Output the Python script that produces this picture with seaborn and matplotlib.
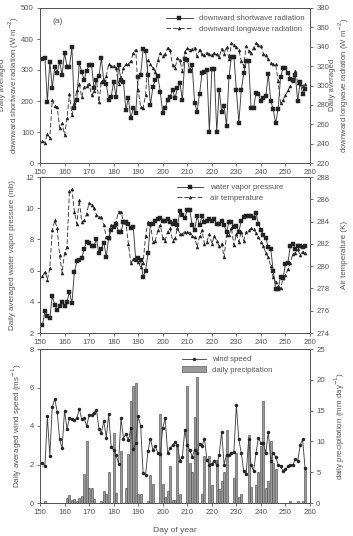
import numpy as np
import pandas as pd
import matplotlib
matplotlib.use("Agg")
import matplotlib.pyplot as plt
from matplotlib.lines import Line2D
from matplotlib.patches import Patch
import seaborn as sns

days = list(range(151, 259))

shortwave = [337, 339, 198, 327, 242, 311, 291, 327, 284, 356,
             311, 311, 373, 177, 203, 322, 294, 268, 298, 316,
             316, 241, 268, 280, 338, 262, 255, 203, 214, 262,
             214, 316, 268, 262, 171, 209, 144, 177, 162, 278,
             284, 367, 360, 284, 187, 246, 268, 280, 230, 162,
             177, 203, 214, 236, 209, 242, 258, 203, 334, 333,
             298, 315, 193, 166, 222, 290, 295, 300, 100, 303,
             303, 100, 235, 165, 185, 120, 278, 343, 343, 235,
             130, 235, 290, 328, 328, 176, 176, 226, 222, 200,
             210, 215, 288, 201, 174, 128, 174, 276, 306, 306,
             290, 272, 268, 283, 200, 262, 222, 240]

longwave = [243, 241, 250, 246, 285, 279, 278, 256, 261, 249,
            266, 291, 270, 282, 295, 302, 288, 298, 300, 302,
            290, 294, 306, 283, 304, 305, 310, 322, 320, 320,
            318, 302, 306, 318, 322, 322, 325, 334, 337, 295,
            278, 277, 290, 326, 322, 318, 314, 326, 334, 330,
            333, 339, 337, 321, 318, 328, 326, 315, 335, 339,
            337, 338, 339, 330, 337, 332, 331, 334, 333, 331,
            334, 332, 329, 338, 333, 340, 327, 344, 342, 340,
            337, 325, 320, 341, 336, 334, 339, 344, 342, 341,
            333, 331, 327, 323, 322, 322, 305, 282, 285, 290,
            295, 300, 305, 315, 303, 302, 300, 302]

vapor = [2.5, 3.4, 3.1, 2.95, 4.4, 3.8, 3.5, 3.7, 4.0, 3.7,
         4.0, 4.65, 3.9, 5.9, 6.6, 6.7, 6.8, 7.4, 7.85, 7.8,
         7.6, 7.6, 8.0, 7.1, 7.4, 7.8, 6.9, 8.1, 8.6, 8.8,
         9.0, 8.5, 8.5, 9.1, 9.1, 9.0, 8.7, 8.8, 6.7, 6.8,
         6.7, 5.6, 6.0, 7.1, 9.0, 9.0, 9.2, 9.3, 9.35, 9.2,
         9.2, 9.3, 9.1, 9.0, 9.2, 8.9, 9.8, 9.55, 9.35, 9.9,
         9.9, 8.9, 8.6, 9.5, 8.9, 9.5, 9.1, 9.2, 9.3, 9.2,
         9.3, 9.0, 9.0, 9.2, 8.9, 8.5, 9.1, 9.1, 8.8, 8.85,
         8.5, 9.2, 9.45, 9.5, 9.5, 9.5, 9.4, 9.7, 9.0, 8.6,
         8.3, 8.1, 7.5, 7.4, 6.0, 4.85, 4.8, 5.6, 5.5, 6.4,
         6.5, 7.6, 7.7, 7.4, 7.55, 7.6, 7.5, 7.6]

air_temp = [279.1, 279.5, 278.8, 279.8, 283.2, 284.1, 283.4, 281.0, 279.4, 281.2,
            281.7, 286.7, 286.9, 284.9, 283.8, 285.9, 284.0, 284.1, 284.7, 285.7,
            285.5, 285.2, 284.6, 284.4, 284.4, 283.7, 282.6, 282.5, 283.7, 283.7,
            284.0, 284.9, 284.9, 284.0, 283.9, 282.0, 280.3, 280.6, 280.6, 280.4,
            279.9, 280.3, 282.7, 284.0, 283.8, 282.2, 282.3, 283.2, 283.7, 282.5,
            282.3, 283.1, 283.4, 282.3, 282.5, 283.4, 282.9, 282.9, 283.1, 283.1,
            283.0, 282.7, 282.6, 281.7, 282.7, 283.2, 282.0, 282.2, 282.9, 282.0,
            282.7, 282.3, 281.8, 282.0, 280.8, 282.8, 282.8, 283.4, 281.9, 282.9,
            282.2, 283.1, 282.3, 283.1, 283.2, 283.4, 283.3, 283.0, 282.6, 282.2,
            281.8, 281.2, 280.8, 280.0, 279.0, 278.6, 278.2, 278.0, 278.9, 279.2,
            279.7, 280.3, 281.1, 281.2, 281.5, 281.0, 281.3, 281.2]

wind = [2.1, 1.9, 4.5, 2.45, 5.0, 5.4, 4.75, 3.3, 2.85, 4.8,
        3.85, 4.4, 4.35, 4.3, 4.4, 4.9, 4.35, 4.4, 4.0, 4.55,
        4.55, 4.7, 4.85, 3.85, 3.65, 4.25, 3.4, 4.6, 2.9, 2.75,
        2.5, 2.05, 4.4, 3.35, 3.6, 3.25, 3.9, 2.8, 3.1, 4.5,
        4.0, 1.55, 1.45, 2.7, 3.35, 2.75, 2.95, 2.6, 2.55, 3.9,
        4.4, 2.6, 2.85, 3.0, 3.15, 3.0, 2.2, 2.4, 3.8, 3.0,
        2.75, 2.4, 2.75, 2.6, 3.05, 2.95, 3.35, 2.25, 2.0, 2.05,
        2.2, 1.95, 2.5, 3.7, 2.0, 2.5, 2.5, 2.6, 2.65, 5.1,
        3.3, 2.6, 1.65, 1.5, 3.3, 2.0, 1.65, 2.6, 3.4, 3.1,
        3.1, 2.6, 3.7, 2.2, 2.6, 2.4, 2.0, 1.9, 1.65, 1.75,
        1.9, 2.0, 1.95, 2.3, 2.2, 3.0, 3.3, 1.8]

rain_days = [152, 161, 162, 163, 164, 165, 166, 167, 168, 169, 170, 171, 172,
             175, 176, 177, 178, 180, 181, 183, 185, 186, 187, 188, 189, 190, 191,
             194, 195, 196, 199, 200, 201, 202, 203, 204, 205, 206, 207,
             210, 211, 212, 213, 214, 216, 217, 219, 220, 222, 223, 224, 225, 226,
             229, 230, 231, 232, 235, 236, 238, 239, 240, 241, 242, 243, 244, 245,
             246, 252, 255, 257, 258]
rain_mm = [0.3, 0.8, 1.3, 0.5, 0.6, 0.4, 0.8, 1.2, 4.75, 10.0, 2.4, 2.5, 0.6,
           0.3, 2.0, 1.5, 5.1, 11.4, 1.6, 8.5, 2.4, 8.0, 16.6, 19.0, 19.5, 1.5, 1.5,
           0.4, 4.6, 3.1, 14.5, 3.1, 1.0, 1.9, 6.0, 0.5, 0.5, 9.3, 1.5,
           19.0, 6.5, 5.0, 14.0, 20.5, 1.5, 7.7, 7.7, 3.0, 7.0, 2.2, 3.5, 5.0, 11.9,
           4.0, 8.1, 0.9, 1.5, 11.1, 2.6, 3.0, 5.1, 9.3, 16.6, 2.4, 3.5, 10.0, 6.5,
           5.5, 0.4, 0.4, 0.3, 5.8]

sns.set_style("ticks")
plt.rcParams['font.family'] = ['Liberation Sans', 'DejaVu Sans']
TXT = '#555555'
LINE = '#3a3a3a'
FS = 5.6
plt.rcParams.update({
    'axes.edgecolor': '#555555', 'axes.linewidth': 0.7,
    'xtick.color': '#555555', 'ytick.color': '#555555',
    'xtick.labelcolor': TXT, 'ytick.labelcolor': TXT,
    'xtick.major.size': 2.5, 'ytick.major.size': 2.5,
    'xtick.major.width': 0.6, 'ytick.major.width': 0.6,
    'xtick.labelsize': FS, 'ytick.labelsize': FS,
    'xtick.major.pad': 2, 'ytick.major.pad': 2,
})

fig = plt.figure(figsize=(3.53, 5.36), dpi=100)
W = 270 / 353
ax1 = fig.add_axes([40 / 353, 1 - 163 / 536, W, 155 / 536])
ax2 = fig.add_axes([40 / 353, 1 - 333 / 536, W, 156 / 536])
ax3 = fig.add_axes([40 / 353, 1 - 503 / 536, W, 154 / 536])

mk = dict(markersize=2.2, markeredgewidth=0.3, markeredgecolor='#222222', markerfacecolor='#222222')
DASH = (5, 2.5)
LW = 0.65


def ylab(xpx, ypx, s, fs=FS + 0.2):
    fig.text(xpx / 353, 1 - ypx / 536, s, rotation=90, ha='center', va='center',
             fontsize=fs, color=TXT, linespacing=1.1)


# Panel 1
ax1b = ax1.twinx()
sns.lineplot(x=days, y=shortwave, ax=ax1, color=LINE, linewidth=LW, marker='s', **mk)
sns.lineplot(x=days, y=longwave, ax=ax1b, color=LINE, linewidth=LW, dashes=DASH, marker='^', **mk)
ax1.set_ylim(0, 500); ax1.set_yticks(range(0, 501, 100))
ax1b.set_ylim(220, 380); ax1b.set_yticks(range(220, 381, 20))
ylab(10, 85, 'Daily averaged\ndownward shortwave radiation (W m$^{-2}$)', FS)
ylab(340, 85, 'Daily averaged\ndownward longwave radiation (W m$^{-2}$)', FS)
ax1.text(0.045, 0.905, '(a)', transform=ax1.transAxes, fontsize=FS + 0.5, color=TXT)
h1 = [Line2D([], [], color=LINE, lw=LW, marker='s', **mk),
      Line2D([], [], color=LINE, lw=LW, dashes=DASH, marker='^', **mk)]
ax1b.legend(h1, ['downward shortwave radiation', 'downward longwave radiation'], loc='upper right',
            bbox_to_anchor=(1.0, 0.99), frameon=False, fontsize=FS, handlelength=3.4,
            labelcolor=TXT, labelspacing=0.35, borderaxespad=0.3)

# Panel 2
ax2b = ax2.twinx()
sns.lineplot(x=days, y=vapor, ax=ax2, color=LINE, linewidth=LW, marker='s', **mk)
sns.lineplot(x=days, y=air_temp, ax=ax2b, color=LINE, linewidth=LW, dashes=DASH, marker='^', **mk)
ax2.set_ylim(2, 12); ax2.set_yticks(range(2, 13, 2))
ax2b.set_ylim(274, 288); ax2b.set_yticks(range(274, 289, 2))
ylab(13, 255, 'Daily averaged water vapor pressure (mb)')
ylab(345, 255, 'Air temperature (K)')
h2 = [Line2D([], [], color=LINE, lw=LW, marker='s', **mk),
      Line2D([], [], color=LINE, lw=LW, dashes=DASH, marker='^', **mk)]
ax2b.legend(h2, ['water vapor pressure', 'air temperature'], loc='upper right',
            bbox_to_anchor=(0.92, 0.99), frameon=False, fontsize=FS, handlelength=3.4,
            labelcolor=TXT, labelspacing=0.35, borderaxespad=0.3)

# Panel 3
ax3b = ax3.twinx()
sns.barplot(x=rain_days, y=rain_mm, ax=ax3b, native_scale=True, color='#9a9a9a',
            edgecolor='#444444', linewidth=0.4, width=0.8, saturation=1)
sns.lineplot(x=days, y=wind, ax=ax3, color='#444444', linewidth=LW, marker='o', **mk)
ax3.set_zorder(ax3b.get_zorder() + 1)
ax3.patch.set_visible(False)
ax3.set_ylim(0, 8); ax3.set_yticks(range(0, 9, 2))
ax3b.set_ylim(0, 25); ax3b.set_yticks(range(0, 26, 5))
ylab(17, 426, 'Daily averaged wind speed (ms$^{-1}$)')
ylab(340, 426, 'daily precipitation (mm day$^{-1}$)')
ax3.set_xlabel('Day of year', fontsize=FS + 0.5, color=TXT, labelpad=8)
ax3.set_ylabel('')
ax3b.set_ylabel('')
h3 = [Line2D([], [], color='#444444', lw=LW, marker='o', **mk),
      Patch(facecolor='#9a9a9a', edgecolor='#444444', linewidth=0.4)]
ax3.legend(h3, ['wind speed', 'daily precipitation'], loc='upper right',
           bbox_to_anchor=(0.88, 0.99), frameon=False, fontsize=FS, handlelength=3.0,
           labelcolor=TXT, labelspacing=0.35, borderaxespad=0.3)

for a in (ax1, ax2, ax3, ax1b, ax2b, ax3b):
    a.set_xlim(150, 260)
    a.set_xticks(range(150, 261, 10))
    for s in a.spines.values():
        s.set_visible(True)
        s.set_color('#555555')
        s.set_linewidth(0.7)
for a in (ax1, ax2, ax1b, ax2b, ax3b):
    a.set_xlabel('')
    a.set_ylabel('')
ax1.set_ylabel(''); ax2.set_ylabel('')

fig.savefig('out.png', dpi=100)
